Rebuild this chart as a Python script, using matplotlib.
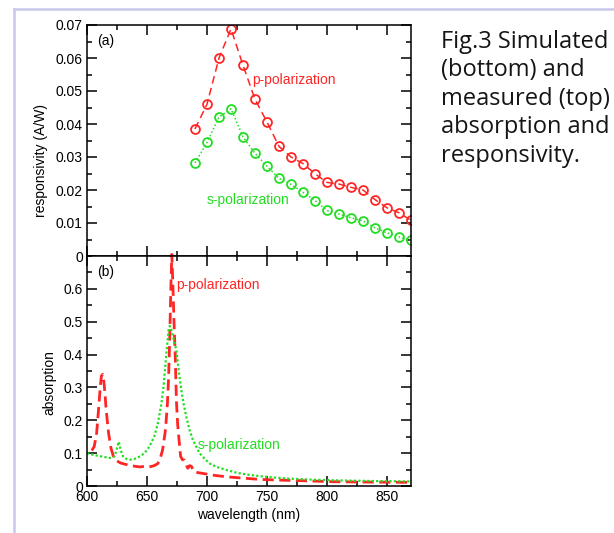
import matplotlib
matplotlib.use("Agg")
import matplotlib.pyplot as plt
from matplotlib.lines import Line2D
from matplotlib.ticker import MultipleLocator

plt.rcParams['font.family'] = ['Liberation Sans', 'DejaVu Sans']

# measured responsivity (top panel)
wl_meas = [690, 700, 710, 720, 730, 740, 750, 760, 770, 780,
           790, 800, 810, 820, 830, 840, 850, 860, 870]
resp_p = [0.0385, 0.046, 0.060, 0.0688, 0.0578, 0.0475, 0.0406, 0.0332, 0.030, 0.028,
          0.0249, 0.0223, 0.0218, 0.0208, 0.0200, 0.0171, 0.0146, 0.0131, 0.0108]
resp_s = [0.0282, 0.0344, 0.0421, 0.0446, 0.0361, 0.0311, 0.0272, 0.0235, 0.0217, 0.0193,
          0.0168, 0.0138, 0.0127, 0.0116, 0.0106, 0.0085, 0.0070, 0.0058, 0.0047]

# simulated absorption (bottom panel)
wl_sim_p = [604, 606, 608, 610, 611, 612, 613, 614, 615, 616, 618, 620, 622, 625,
            628, 632, 636, 640, 644, 648, 652, 656, 659, 661, 663, 665, 666, 667,
            668, 669, 670, 670.7, 671.5, 672.5, 673.5, 674.5, 675.5, 676.7, 678,
            679.5, 681, 682.5, 684, 685.5, 687, 689, 692, 697, 705, 716, 730,
            744, 760, 780, 805, 835, 870]
abs_p = [0.108, 0.12, 0.16, 0.25, 0.30, 0.335, 0.34, 0.32, 0.28, 0.23, 0.16, 0.115, 0.09, 0.076,
         0.07, 0.066, 0.063, 0.060, 0.058, 0.060, 0.058, 0.062, 0.068, 0.084, 0.11, 0.16, 0.20, 0.25,
         0.33, 0.46, 0.62, 0.705, 0.62, 0.50, 0.40, 0.26, 0.19, 0.14, 0.09,
         0.08, 0.079, 0.065, 0.054, 0.062, 0.060, 0.044, 0.041, 0.038, 0.033, 0.028, 0.024,
         0.020, 0.018, 0.016, 0.013, 0.012, 0.011]

wl_sim_s = [600, 605, 610, 615, 620, 623, 625, 626.5, 628, 630, 633, 636, 640, 644,
            648, 652, 656, 659, 662, 664, 666, 668, 669, 670, 672, 674.5, 676.5, 678.6,
            680.5, 682.8, 685.5, 688.3, 691, 694, 698, 702, 708, 716, 725, 735, 744,
            755, 770, 790, 810, 840, 870]
abs_s = [0.10, 0.095, 0.091, 0.088, 0.085, 0.09, 0.115, 0.135, 0.11, 0.09, 0.082, 0.08, 0.083, 0.09,
         0.10, 0.12, 0.15, 0.19, 0.25, 0.31, 0.40, 0.475, 0.487, 0.48, 0.45, 0.413, 0.35, 0.292,
         0.25, 0.21, 0.17, 0.14, 0.12, 0.099, 0.083, 0.069, 0.058, 0.049, 0.040, 0.034, 0.030,
         0.026, 0.022, 0.019, 0.017, 0.015, 0.014]

RED = '#ff2525'
GREEN = '#22dd22'

fig = plt.figure(figsize=(6.14, 5.33), dpi=100)
ax1 = fig.add_axes([87/614, 1 - 256/533, 324/614, 231/533])
ax2 = fig.add_axes([87/614, 1 - 486/533, 324/614, 230/533])

# page frame lines
fig.add_artist(Line2D([13.5/614, 13.5/614], [0, 1 - 8.5/533], transform=fig.transFigure,
                      color='#c8c8ea', lw=1.8))
fig.add_artist(Line2D([13.5/614, 1], [1 - 8.5/533, 1 - 8.5/533], transform=fig.transFigure,
                      color='#c8c8ea', lw=1.8))

ax1.plot(wl_meas, resp_p, color=RED, ls=(0, (5, 3)), lw=1.1, marker='o', ms=6.4,
         mfc='none', mec=RED, mew=1.3)
ax1.plot(wl_meas, resp_s, color=GREEN, ls=(0, (1, 1.5)), lw=1.1, marker='o', ms=6.4,
         mfc='none', mec=GREEN, mew=1.3)
ax1.set_xlim(600, 870)
ax1.set_ylim(0, 0.07)
ax1.yaxis.set_minor_locator(MultipleLocator(0.005))
ax1.set_yticks([0, 0.01, 0.02, 0.03, 0.04, 0.05, 0.06, 0.07])
ax1.set_yticklabels(['0', '0.01', '0.02', '0.03', '0.04', '0.05', '0.06', '0.07'])
ax1.set_ylabel('responsivity (A/W)', fontsize=10)
ax1.yaxis.set_label_coords(-0.121, 0.415)
ax1.text(0.03, 0.93, '(a)', transform=ax1.transAxes, fontsize=10, va='center')
ax1.text(738, 0.0532, 'p-polarization', color=RED, fontsize=10, va='center')
ax1.text(699.5, 0.0171, 's-polarization', color=GREEN, fontsize=10, va='center')

ax2.plot(wl_sim_p, abs_p, color=RED, ls=(0, (4, 2)), lw=2.0, clip_on=False)
ax2.plot(wl_sim_s, abs_s, color=GREEN, ls=(0, (1, 1)), lw=1.6)
ax2.set_xlim(600, 870)
ax2.set_ylim(0, 0.7)
ax2.yaxis.set_minor_locator(MultipleLocator(0.05))
ax2.set_yticks([0, 0.1, 0.2, 0.3, 0.4, 0.5, 0.6])
ax2.set_yticklabels(['0', '0.1', '0.2', '0.3', '0.4', '0.5', '0.6'])
ax2.set_xlabel('wavelength (nm)', fontsize=10, labelpad=3)
ax2.set_ylabel('absorption', fontsize=10)
ax2.yaxis.set_label_coords(-0.0935, 0.448)
ax2.text(0.03, 0.93, '(b)', transform=ax2.transAxes, fontsize=10, va='center')
ax2.text(674.5, 0.613, 'p-polarization', color=RED, fontsize=10, va='center')
ax2.text(692, 0.125, 's-polarization', color=GREEN, fontsize=10, va='center')

for ax in (ax1, ax2):
    ax.xaxis.set_major_locator(MultipleLocator(50))
    ax.xaxis.set_minor_locator(MultipleLocator(25))
    ax.tick_params(which='both', direction='in', top=True, right=True, labelsize=10,
                   width=1.1, pad=3)
    ax.tick_params(which='major', length=7)
    ax.tick_params(which='minor', length=3.6)
    for s in ax.spines.values():
        s.set_linewidth(1.1)
ax1.tick_params(labelbottom=False)

fig.text(441/614, 1 - 30/533, 'Fig.3 Simulated\n(bottom) and\nmeasured (top)\nabsorption and\nresponsivity.',
         fontsize=17, family=['Open Sans', 'DejaVu Sans'], va='top', ha='left', linespacing=1.245,
         color='#151515')

fig.savefig('out.png', dpi=100)
